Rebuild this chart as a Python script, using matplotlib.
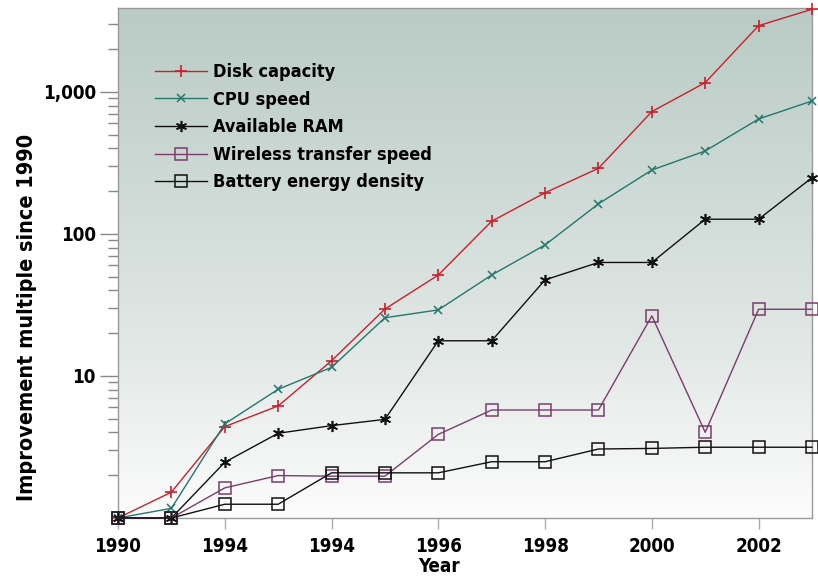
import matplotlib
matplotlib.use('Agg')
import matplotlib.pyplot as plt
from matplotlib.colors import LinearSegmentedColormap
import numpy as np

plt.rcParams['font.family'] = ['DejaVu Sans']
plt.rcParams['font.stretch'] = 'condensed'
plt.rcParams['font.weight'] = 'bold'
plt.rcParams['axes.labelweight'] = 'bold'

years = list(range(1990, 2004))
tick_idx = [0, 2, 4, 6, 8, 10, 12]
tick_labels = ['1990', '1994', '1994', '1996', '1998', '2000', '2002']

disk = [1, 1.52, 4.4, 6.15, 12.8, 29.6, 51.4, 123, 195, 290, 727, 1163, 2930, 3820]
cpu = [1, 1.17, 4.6, 8.06, 11.5, 25.7, 29.2, 51.4, 83.7, 163, 282, 384, 645, 864]
ram = [1, 1, 2.47, 3.95, 4.47, 4.95, 17.7, 17.7, 47.5, 63, 63, 127, 127, 249]
wireless = [1, 1, 1.63, 1.99, 1.97, 1.97, 3.88, 5.76, 5.76, 5.76, 26.5, 4.01, 29.5, 29.5]
battery = [1, 1, 1.25, 1.25, 2.08, 2.08, 2.08, 2.49, 2.49, 3.06, 3.09, 3.15, 3.15, 3.15]

fig = plt.figure(figsize=(8.18, 5.79), dpi=100)
ax = fig.add_axes([118/818, 1-518/579, 694/818, 510/579])

x = np.arange(len(years))
ymin, ymax = 1, 3900

# gradient background, grey-green at top fading to white
grad = np.linspace(0, 1, 256).reshape(-1, 1)
cmap = LinearSegmentedColormap.from_list('bg', ['#fcfcfc', '#e2e8e6', '#cdd9d5', '#b9cbc4'])
ax.imshow(grad, aspect='auto', cmap=cmap, origin='lower',
          extent=[0, 1, 0, 1], transform=ax.transAxes, zorder=0)

ax.plot(x, disk, color='#c8202e', lw=1, marker='+', ms=8.5, mew=1.2,
        label='Disk capacity', clip_on=False, zorder=3)
ax.plot(x, cpu, color='#24776c', lw=1, marker='x', ms=6, mew=1.1,
        label='CPU speed', clip_on=False, zorder=3)
ax.plot(x, ram, color='#111111', lw=1, marker=(6, 2, 0), ms=8, mew=1.2,
        label='Available RAM', clip_on=False, zorder=3)
ax.plot(x, wireless, color='#7a3d6a', lw=1, marker='s', ms=8.5, mew=1.1, mfc='none',
        label='Wireless transfer speed', clip_on=False, zorder=3)
ax.plot(x, battery, color='#111111', lw=1, marker='s', ms=8.5, mew=1.1, mfc='none',
        label='Battery energy density', clip_on=False, zorder=3)

ax.set_yscale('log')
ax.set_xlim(0, 13)
ax.set_ylim(ymin, ymax)
ax.set_yticks([10, 100, 1000])
ax.set_yticklabels(['10', '100', '1,000'])
ax.set_xticks(tick_idx)
ax.set_xticklabels(tick_labels)

ax.tick_params(axis='y', which='major', length=13, width=1, color='#888888',
               labelsize=13.5, pad=3)
ax.tick_params(axis='y', which='minor', length=7, width=1, color='#888888')
ax.tick_params(axis='x', length=8, width=1, color='#aaaaaa', labelsize=13.5, pad=6)

for s in ax.spines.values():
    s.set_color('#999999')
    s.set_linewidth(1)

ax.set_xlabel('Year', fontsize=13.5)
ax.xaxis.set_label_coords(321/694, -0.077)
ax.set_ylabel('Improvement multiple since 1990', fontsize=15.5)
ax.yaxis.set_label_coords(-0.117, 0.394)

leg = ax.legend(loc='upper left', bbox_to_anchor=(0.043, 0.906), frameon=False,
                fontsize=13, handlelength=2.88, handletextpad=0.33,
                labelspacing=0.53, borderaxespad=0)

fig.savefig('out.png', dpi=100)
